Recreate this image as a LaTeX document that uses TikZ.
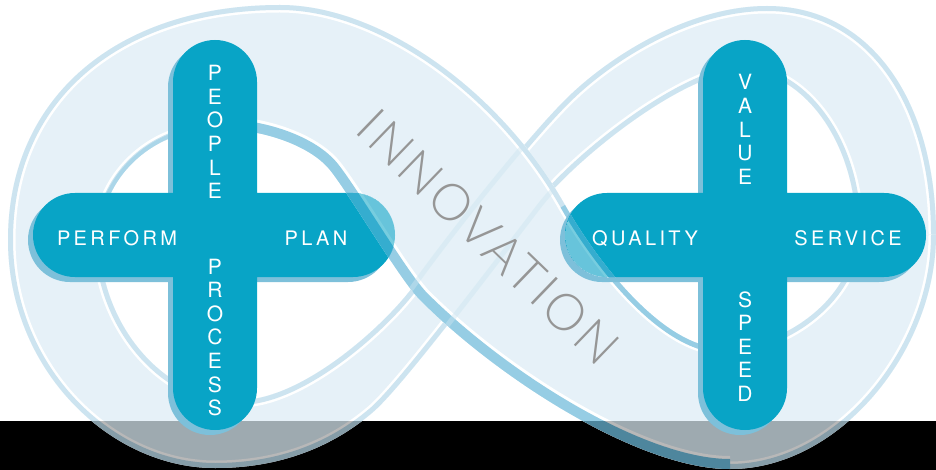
\documentclass[tikz,border=0pt]{standalone}
\usepackage{fontspec}
\newfontfamily\barfont{TeX Gyre Heros}[LetterSpace=17]
\newfontfamily\stackfont{TeX Gyre Heros}
\newfontfamily\thinfont{Lato Light}[LetterSpace=6]

\definecolor{barteal}{RGB}{8,164,198}
\definecolor{barshade}{RGB}{125,192,218}
\definecolor{ribbonface}{RGB}{220,236,245}
\definecolor{ribbonrim}{RGB}{186,218,234}
\definecolor{ribbondark}{RGB}{109,186,218}
\definecolor{wordgray}{RGB}{150,150,150}

% edges of the ribbon, in pixels (y grows downwards)
\def\fronttop{(8,240) .. controls (8,95) and (120,5) .. (280,5)
  .. controls (380,5) and (500,90) .. (565,205)
  .. controls (595,258) and (660,345) .. (720,348)
  .. controls (780,350) and (856,300) .. (856,230)}
\def\frontbottom{(936,235) .. controls (936,350) and (840,469) .. (730,469)
  .. controls (640,469) and (500,380) .. (420,300)
  .. controls (400,280) and (350,195) .. (330,170)
  .. controls (310,145) and (260,128) .. (215,129)
  .. controls (150,130) and (100,180) .. (100,240)}
\def\backbottom{(8,240) .. controls (8,370) and (110,468) .. (215,468)
  .. controls (290,468) and (340,440) .. (372,413)
  .. controls (400,390) and (490,270) .. (540,205)
  .. controls (575,160) and (680,75) .. (740,71)
  .. controls (800,68) and (856,140) .. (856,230)}
\def\backtop{(936,235) .. controls (936,100) and (870,6) .. (767,6)
  .. controls (690,6) and (610,55) .. (565,100)
  .. controls (525,140) and (450,235) .. (412,288)
  .. controls (380,330) and (300,400) .. (240,400)
  .. controls (160,400) and (100,320) .. (100,240)}
\def\frontdeep{(730,469) .. controls (640,469) and (500,380) .. (420,300)
  .. controls (400,280) and (350,195) .. (330,170)
  .. controls (310,145) and (260,128) .. (215,129)}
\def\holetop{(215,129) .. controls (150,130) and (100,180) .. (100,240)}
\def\holedeep{(565,205) .. controls (595,258) and (660,345) .. (720,348)}
\edef\frontshape{\fronttop -- \frontbottom -- cycle}
\edef\backshape{\backbottom -- \backtop -- cycle}

% the two plus signs
\def\crossL{(173,40) rectangle (257,430) (33,193) rectangle (395,277)}
\def\crossR{(703,40) rectangle (787,430) (565,193) rectangle (926,277)}

\tikzset{
  face/.style={fill=ribbonface},
  rim/.style={draw=ribbonrim, line width=10pt},
  glint/.style={draw=white, line width=15pt},
  deep/.style={draw=ribbondark, line width=20pt},
  bar/.style={fill=barteal, rounded corners=42pt},
  barshadow/.style={fill=barshade, rounded corners=42pt},
  barlabel/.style={text=white, anchor=base, inner sep=0pt,
    font=\barfont\fontsize{20}{23.6}\selectfont},
  stacklabel/.style={text=white, align=center, inner sep=0pt,
    font=\stackfont\fontsize{21}{23.6}\selectfont},
  word/.style={text=wordgray, inner sep=0pt,
    font=\thinfont\fontsize{51}{51}\selectfont},
}

% front half of the ribbon with its rims
\def\frontribbon{
  \fill[face] \frontshape;
  \begin{scope}
    \clip \frontshape;
    \draw[glint] \fronttop;
    \draw[glint] \frontbottom;
    \draw[glint, line width=26pt] \frontdeep;
    \draw[rim] \fronttop;
    \draw[rim] \frontbottom;
    \draw[deep] \frontdeep;
    \draw[deep, line width=8pt, opacity=0.6] \holetop;
    \draw[deep, line width=10pt] \holedeep;
  \end{scope}
}

\begin{document}
\begin{tikzpicture}[x=1pt,y=-1pt]
  %%%%% START %%%%%
  \useasboundingbox (0,0) rectangle (936,470);
  \fill[black] (0,421) rectangle (936,470);

  % ribbon: back half first, front half over it
  \begin{scope}[transparency group, opacity=0.72]
    \fill[face] \backshape;
    \begin{scope}
      \clip \backshape;
      \draw[glint] \backbottom;
      \draw[glint] \backtop;
      \draw[rim] \backbottom;
      \draw[rim] \backtop;
    \end{scope}
    \frontribbon
    \begin{scope}
      \clip \frontshape;
      \draw[rim, line width=5pt, opacity=0.45] \backbottom;
      \draw[rim, line width=5pt, opacity=0.45] \backtop;
    \end{scope}
  \end{scope}

  % plus signs
  \fill[barshadow, shift={(-5,5)}] \crossL;
  \fill[barshadow, shift={(-5,5)}] \crossR;
  \fill[bar] \crossL;
  \fill[bar] \crossR;

  % inner ends of the bars lie under the front band
  \begin{scope}
    \clip[rounded corners=42pt] \crossL \crossR;
    \clip (330,0) rectangle (640,470);
    \begin{scope}[transparency group, opacity=0.45]
      \frontribbon
    \end{scope}
  \end{scope}

  \node[barlabel] (perform) at (117,245.5) {PERFORM};
  \node[barlabel] (plan) at (316,245.5) {PLAN};
  \node[barlabel] (quality) at (645,245.5) {QUALITY};
  \node[barlabel] (service) at (848,245.5) {SERVICE};

  \node[stacklabel] (people) at (215,132) {P\\E\\O\\P\\L\\E};
  \node[stacklabel] (process) at (215,337.5) {P\\R\\O\\C\\E\\S\\S};
  \node[stacklabel] (value) at (745,129.5) {V\\A\\L\\U\\E};
  \node[stacklabel] (speed) at (745,346.5) {S\\P\\E\\E\\D};

  \node[word, rotate=-44] (innovation) at (488,237) {INNOVATION};
  %%%%% END %%%%%
\end{tikzpicture}
\end{document}
